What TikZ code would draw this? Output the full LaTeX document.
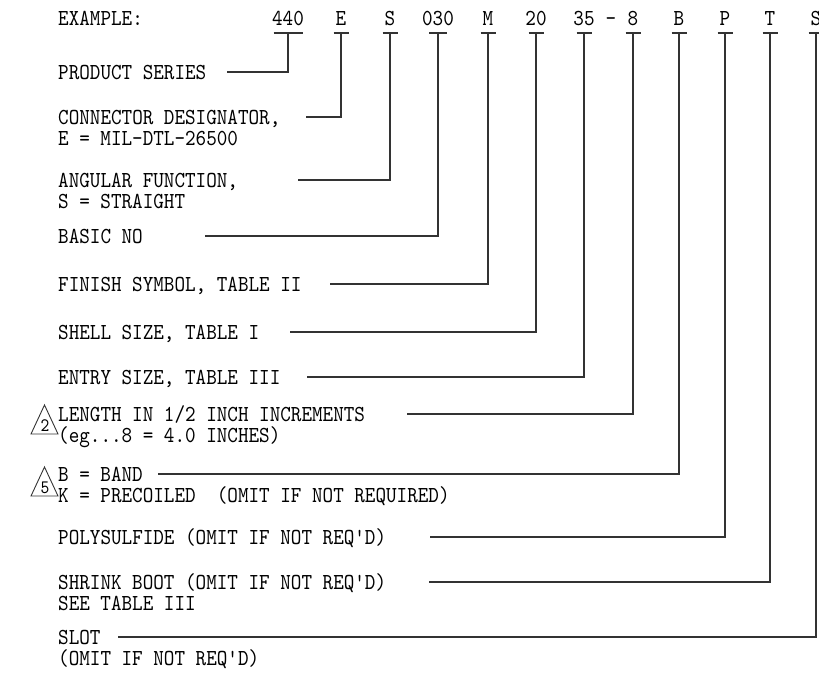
\documentclass[tikz,border=0pt]{standalone}
\usepackage{fontspec}
\newfontfamily\cmono{lmmono10-regular.otf}[FakeStretch=0.88]
\begin{document}
\begin{tikzpicture}[x=1pt,y=-1pt,
  txt/.style={inner sep=0pt, font=\cmono\fontsize{22.9}{21.7}\selectfont},
  lbl/.style={txt, anchor=base west},
  code/.style={txt, anchor=base},
  ln/.style={line width=1.1pt, draw=black!80},
  tri/.style={line width=0.9pt, draw=black!80},
  trinum/.style={inner sep=0pt, anchor=base, font=\cmono\fontsize{19}{19}\selectfont}]
\useasboundingbox (0,0) rectangle (819,673);
% code row
\node[lbl] (ex) at (58,25) {EXAMPLE:};
\node[code] (k440) at (288,25) {440};
\node[code] (kE) at (341,25) {E};
\node[code] (kS) at (390,25) {S};
\node[code] (k030) at (438,25) {030};
\node[code] (kM) at (488,25) {M};
\node[code] (k20) at (536,25) {20};
\node[code] (k35) at (584,25) {35};
\node[code] (kdash) at (611,25) {-};
\node[code] (k8) at (633,25) {8};
\node[code] (kB) at (679,25) {B};
\node[code] (kP) at (725,25) {P};
\node[code] (kT) at (770,25) {T};
\node[code] (kSl) at (816,25) {S};
% bar centres
\coordinate (b440) at (288,33);
\coordinate (bE) at (341,33);
\coordinate (bS) at (390,33);
\coordinate (b030) at (438,33);
\coordinate (bM) at (488,33);
\coordinate (b20) at (536,33);
\coordinate (b35) at (584,33);
\coordinate (b8) at (633,33);
\coordinate (bB) at (679,33);
\coordinate (bP) at (725,33);
\coordinate (bT) at (770,33);
\coordinate (bSl) at (816,33);
\draw[ln] ([xshift=-14.5pt]b440) -- ([xshift=14.5pt]b440);
\foreach \c in {bE,bS,bM,b20,b35,b8,bB,bP,bT,bSl}
  \draw[ln] ([xshift=-7.5pt]\c) -- ([xshift=7.5pt]\c);
\draw[ln] ([xshift=-9pt]b030) -- ([xshift=9pt]b030);
% labels
\node[lbl] (lprod) at (58,79) {PRODUCT SERIES};
\node[lbl] (lconn) at (58,124) {CONNECTOR DESIGNATOR,};
\node[lbl] (lconn2) at (58,145.7) {E = MIL-DTL-26500};
\node[lbl] (lang) at (58,187) {ANGULAR FUNCTION,};
\node[lbl] (lang2) at (58,208.7) {S = STRAIGHT};
\node[lbl] (lbas) at (58,243) {BASIC NO};
\node[lbl] (lfin) at (58,291) {FINISH SYMBOL, TABLE II};
\node[lbl] (lshe) at (58,339) {SHELL SIZE, TABLE I};
\node[lbl] (lent) at (58,384) {ENTRY SIZE, TABLE III};
\node[lbl] (llen) at (58,421) {LENGTH IN 1/2 INCH INCREMENTS};
\node[lbl] (llen2) at (58,442.7) {(eg...8 = 4.0 INCHES)};
\node[lbl] (lband) at (58,481) {B = BAND};
\node[lbl] (lband2) at (58,502.7) {K = PRECOILED\ \ (OMIT IF NOT REQUIRED)};
\node[lbl] (lpoly) at (58,544) {POLYSULFIDE (OMIT IF NOT REQ'D)};
\node[lbl] (lshr) at (58,589) {SHRINK BOOT (OMIT IF NOT REQ'D)};
\node[lbl] (lshr2) at (58,610.7) {SEE TABLE III};
\node[lbl] (lslot) at (58,644) {SLOT};
\node[lbl] (lslot2) at (58,665.7) {(OMIT IF NOT REQ'D)};
% connector starts
\coordinate (sprod) at (227,72);
\coordinate (sconn) at (306,117);
\coordinate (sang) at (298,180);
\coordinate (sbas) at (205,236);
\coordinate (sfin) at (330,284);
\coordinate (sshe) at (290,332);
\coordinate (sent) at (307,377);
\coordinate (slen) at (407,414);
\coordinate (sband) at (158,474);
\coordinate (spoly) at (430,537);
\coordinate (sshr) at (429,582);
\coordinate (sslot) at (118,637);
\draw[ln] (b440) |- (sprod);
\draw[ln] (bE) |- (sconn);
\draw[ln] (bS) |- (sang);
\draw[ln] (b030) |- (sbas);
\draw[ln] (bM) |- (sfin);
\draw[ln] (b20) |- (sshe);
\draw[ln] (b35) |- (sent);
\draw[ln] (b8) |- (slen);
\draw[ln] (bB) |- (sband);
\draw[ln] (bP) |- (spoly);
\draw[ln] (bT) |- (sshr);
\draw[ln] (bSl) |- (sslot);
% note triangles
\draw[tri] (31,434) -- (44.5,405) -- (58,434) -- cycle;
\node[trinum] (n2) at (45,431) {2};
\draw[tri] (31,496) -- (44.5,467) -- (58,496) -- cycle;
\node[trinum] (n5) at (45,493) {5};
\end{tikzpicture}
\end{document}
